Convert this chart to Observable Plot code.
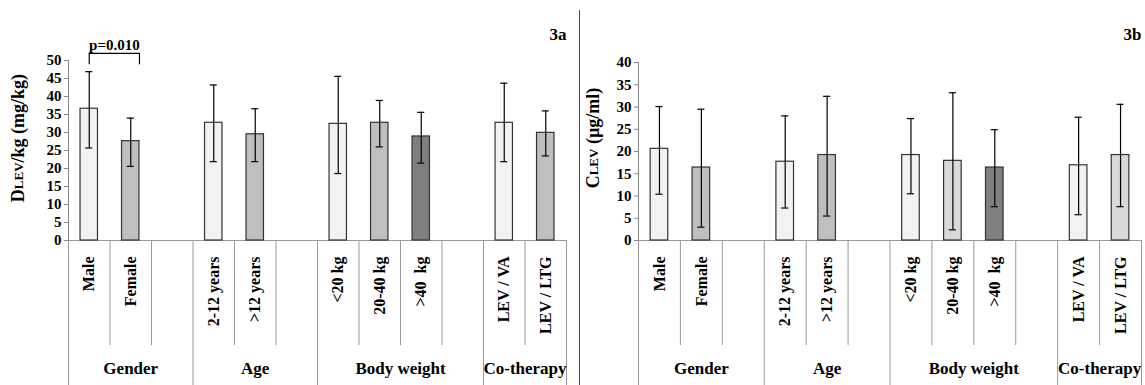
<!DOCTYPE html>
<html><head><meta charset="utf-8">
<script src="https://cdn.jsdelivr.net/npm/d3@7"></script>
<script src="https://cdn.jsdelivr.net/npm/@observablehq/plot@0.6"></script>
<style>
body{margin:0;background:#fff;}
#wrap{position:relative;width:1145px;height:385px;overflow:hidden;background:#fff;}
#p1{position:absolute;left:0;top:0;}
#p2{position:absolute;left:580px;top:0;}
#divider{position:absolute;left:579px;top:10px;width:0;height:375px;border-left:1.5px solid #444;}
</style></head><body>
<div id="wrap"><div id="p1"></div><div id="divider"></div><div id="p2"></div></div>
<script>
// Category slots (blank strings are the spacer slots of the original chart)
const slots = ["Male", "Female", "", "2-12 years", ">12 years", "", "<20 kg", "20-40 kg", ">40  kg", "", "LEV / VA", "LEV / LTG"];
const slotGroups = ["Gender", "Gender", "Gender", "Age", "Age", "Age", "Body weight", "Body weight", "Body weight", "Body weight", "Co-therapy", "Co-therapy"];
const categories = slots.filter(s => s !== "");

// 3a: DLEV/kg (mg/kg)
const doseMean = [36.6, 27.6, null, 32.7, 29.5, null, 32.4, 32.7, 28.9, null, 32.7, 29.9];
const doseHigh = [46.9, 34.0, null, 43.2, 36.6, null, 45.6, 38.9, 35.6, null, 43.7, 36.0];
const doseLow  = [25.7, 20.6, null, 21.9, 21.9, null, 18.6, 26.0, 21.5, null, 21.9, 23.5];

// 3b: CLEV (µg/ml)
const concMean = [20.6, 16.4, null, 17.7, 19.2, null, 19.2, 17.9, 16.4, null, 16.9, 19.2];
const concHigh = [30.1, 29.5, null, 28.0, 32.4, null, 27.4, 33.2, 24.9, null, 27.7, 30.6];
const concLow  = [10.4, 3.0, null, 7.3, 5.5, null, 10.5, 2.4, 7.6, null, 5.8, 7.6];

const doseTicks = [0, 5, 10, 15, 20, 25, 30, 35, 40, 45, 50];
const concTicks = [0, 5, 10, 15, 20, 25, 30, 35, 40];

const doseSignif = [{from: "Male", to: "Female", label: "p=0.010", level: 52, legLow: 48.8}];

const FONT = "'Liberation Serif', 'Times New Roman', serif";

function panel(opts) {
  const {el, width, marginLeft, marginRight, marginTop, ticks, mean, high, low, shades, letter, letterDy, titleHead, titleSub, titleTail, titleX, signif} = opts;
  const n = slots.length;
  const rows = slots.map((s, i) => ({s, i, mean: mean[i], high: high[i], low: low[i]})).filter(d => d.mean != null);
  const bounds = d3.range(n + 1).map(i => ({i, full: i === 0 || i === n || slotGroups[i] !== slotGroups[i - 1]}));
  const groupRows = d3.groups(slots.map((s, i) => ({i, g: slotGroups[i]})), d => d.g)
    .map(([g, arr]) => ({g, c: (arr[0].i + arr[arr.length - 1].i + 1) / 2}));
  const yMax = ticks[ticks.length - 1];
  const hw = 0.21, cap = 0.085;
  const marks = [
    Plot.ruleX(bounds.filter(d => d.full), {x: "i", y1: 0, y2: 0, insetBottom: -145, stroke: "#999", strokeWidth: 1}),
    Plot.ruleX(bounds.filter(d => !d.full), {x: "i", y1: 0, y2: 0, insetBottom: -105, stroke: "#999", strokeWidth: 1}),
    Plot.ruleX([0], {y1: 0, y2: yMax, stroke: "#888", strokeWidth: 1}),
    Plot.axisY({ticks, tickSize: 4, stroke: "#888", fill: "#000", label: null, fontSize: 15, fontWeight: "bold", tickPadding: 3}),
    Plot.ruleY([0], {x1: 0, x2: n, stroke: "#999", strokeWidth: 1}),
    Plot.rectY(rows, {x1: d => d.i + 0.5 - hw, x2: d => d.i + 0.5 + hw, y1: 0, y2: "mean", fill: "s", stroke: "#333", strokeWidth: 1.2}),
    Plot.ruleX(rows, {x: d => d.i + 0.5, y1: "low", y2: "high", stroke: "#000", strokeWidth: 1.2}),
    Plot.ruleY(rows, {x1: d => d.i + 0.5 - cap, x2: d => d.i + 0.5 + cap, y: "high", stroke: "#000", strokeWidth: 1.2}),
    Plot.ruleY(rows, {x1: d => d.i + 0.5 - cap, x2: d => d.i + 0.5 + cap, y: "low", stroke: "#000", strokeWidth: 1.2}),
    Plot.text(rows, {x: d => d.i + 0.5, y: 0, text: "s", rotate: -90, textAnchor: "end", dy: 16, fontSize: 16, fontWeight: "bold", fill: "#000"}),
    Plot.text(groupRows, {x: "c", y: 0, text: "g", dy: 128, fontSize: 17, fontWeight: "bold", fill: "#000"}),
    Plot.text([letter], {frameAnchor: "top-right", text: d => d, dy: letterDy, fontSize: 17, fontWeight: "bold", fill: "#000", textAnchor: "end"})
  ];
  if (signif) {
    const sg = signif.map(d => ({...d, x1: slots.indexOf(d.from) + 0.5, x2: slots.indexOf(d.to) + 0.5 + hw}));
    marks.push(
      Plot.ruleY(sg, {x1: "x1", x2: "x2", y: "level", stroke: "#000", strokeWidth: 1.2}),
      Plot.ruleX(sg, {x: "x1", y1: "legLow", y2: "level", stroke: "#000", strokeWidth: 1.2}),
      Plot.ruleX(sg, {x: "x2", y1: "legLow", y2: "level", stroke: "#000", strokeWidth: 1.2}),
      Plot.text(sg, {x: d => (d.x1 + d.x2) / 2, y: "level", text: "label", lineAnchor: "bottom", dy: -3, fontSize: 15, fontWeight: "bold", fill: "#000"})
    );
  }
  const plot = Plot.plot({
    width, height: 385, marginLeft, marginRight, marginTop, marginBottom: 145,
    x: {domain: [0, n], axis: null},
    y: {domain: [0, yMax], axis: null},
    color: {domain: categories, range: shades},
    style: {fontFamily: FONT, fontWeight: "bold", fontSize: "14px", color: "#000", background: "#fff", overflow: "visible"},
    marks
  });
  const svg = d3.select(plot);
  const t = svg.append("text")
    .attr("transform", `translate(${titleX},138) rotate(-90)`)
    .attr("text-anchor", "middle")
    .attr("dominant-baseline", "middle")
    .attr("font-family", FONT).attr("font-weight", "bold").attr("font-size", 18).attr("fill", "#000");
  t.append("tspan").text(titleHead);
  t.append("tspan").attr("font-size", 13).text(titleSub);
  t.append("tspan").text(titleTail);
  document.getElementById(el).appendChild(plot);
}

panel({
  el: "p1", width: 580, marginLeft: 68, marginRight: 14, marginTop: 60,
  ticks: doseTicks, mean: doseMean, high: doseHigh, low: doseLow,
  shades: ["#f2f2f2", "#bfbfbf", "#f2f2f2", "#bfbfbf", "#f2f2f2", "#bfbfbf", "#7f7f7f", "#f2f2f2", "#bfbfbf"],
  letter: "3a", letterDy: -33,
  titleHead: "D", titleSub: "LEV", titleTail: "/kg (mg/kg)", titleX: 20,
  signif: doseSignif
});
panel({
  el: "p2", width: 565, marginLeft: 58, marginRight: 4, marginTop: 62,
  ticks: concTicks, mean: concMean, high: concHigh, low: concLow,
  shades: ["#f2f2f2", "#bfbfbf", "#f2f2f2", "#bfbfbf", "#f2f2f2", "#d9d9d9", "#7f7f7f", "#f2f2f2", "#d9d9d9"],
  letter: "3b", letterDy: -35,
  titleHead: "C", titleSub: "LEV", titleTail: " (µg/ml)", titleX: 15,
  signif: null
});
</script>
</body></html>
